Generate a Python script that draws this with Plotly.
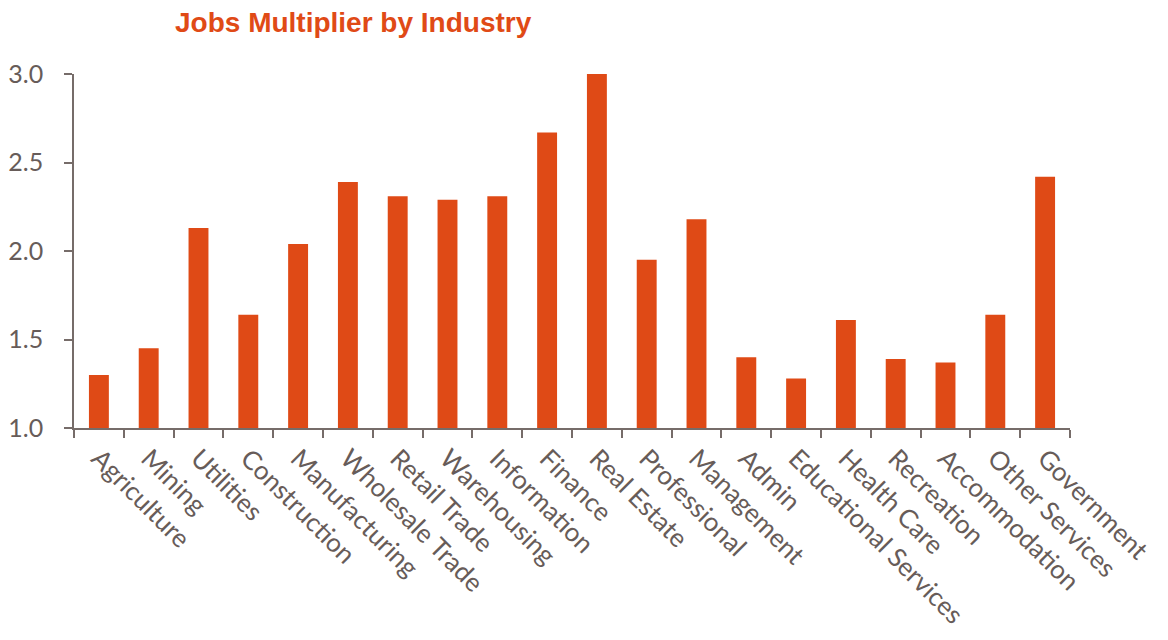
import plotly.graph_objects as go

industries = ["Agriculture", "Mining", "Utilities", "Construction", "Manufacturing",
              "Wholesale Trade", "Retail Trade", "Warehousing", "Information", "Finance",
              "Real Estate", "Professional", "Management", "Admin", "Educational Services",
              "Health Care", "Recreation", "Accommodation", "Other Services", "Government"]
multipliers = [1.30, 1.45, 2.13, 1.64, 2.04,
               2.39, 2.31, 2.29, 2.31, 2.67,
               3.00, 1.95, 2.18, 1.40, 1.28,
               1.61, 1.39, 1.37, 1.64, 2.42]
y_ticks = [1.0, 1.5, 2.0, 2.5, 3.0]

bar_color = "#DF4A16"
axis_color = "#766C69"
text_color = "#675C59"

fig = go.Figure(go.Bar(x=industries, y=multipliers, marker=dict(color=bar_color, line=dict(width=0)),
                       hoverinfo="x+y"))

fig.update_layout(
    width=1168, height=640,
    margin=dict(l=66, r=106, t=66, b=220, autoexpand=False),
    paper_bgcolor="white", plot_bgcolor="white",
    bargap=0.6,
    showlegend=False,
    title=dict(text="<b>Jobs Multiplier by Industry</b>", x=167/1168, xref="container", xanchor="left",
               y=1 - 14/640, yref="container", yanchor="middle",
               font=dict(family="Liberation Sans, Arial", size=28, color="#E04A16")),
    font=dict(family="Lato, Open Sans, sans-serif", color=text_color),
)
fig.update_xaxes(
    type="category", tickangle=45, tickson="boundaries", ticks="outside", ticklen=8,
    tickwidth=1.5, tickcolor=axis_color, showline=True, linecolor=axis_color, linewidth=1.5,
    showgrid=False, automargin=False, ticklabelstandoff=3,
    tickfont=dict(family="Lato, Open Sans, sans-serif", size=26, color=text_color),
)
fig.update_yaxes(
    range=[1.0, 3.0], tickvals=y_ticks, ticktext=[f"{v:.1f}" for v in y_ticks],
    ticks="outside", ticklen=8, tickwidth=1.5, tickcolor=axis_color,
    showline=True, linecolor=axis_color, linewidth=1.5, showgrid=False, zeroline=False,
    automargin=False, ticklabelstandoff=16,
    tickfont=dict(family="Lato, Open Sans, sans-serif", size=25, color=text_color),
)

fig.write_html("out.html")
